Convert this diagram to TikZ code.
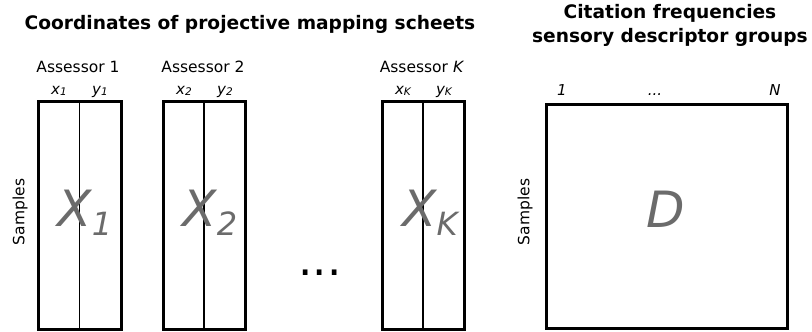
\documentclass[tikz,border=0pt]{standalone}
\usepackage{fontspec}
\setmainfont{DejaVu Sans}
\definecolor{biggray}{rgb}{0.42,0.42,0.42}
\begin{document}
\begin{tikzpicture}[x=1pt,y=-1pt,
  outer/.style={draw=black,line width=3pt},
  inner/.style={draw=black,line width=1.2pt},
  lab/.style={font=\fontsize{15.5}{18}\selectfont,inner sep=0pt,anchor=base},
  col/.style={font=\fontsize{15}{18}\selectfont\itshape,inner sep=0pt,anchor=base},
  ttl/.style={font=\fontsize{18.6}{22}\selectfont\bfseries,inner sep=0pt,anchor=base},
  big/.style={font=\fontsize{50}{50}\selectfont\itshape,text=biggray,inner sep=0pt,anchor=base},
  samp/.style={font=\fontsize{15.5}{18}\selectfont,rotate=90,inner sep=0pt}]
\useasboundingbox (0,0) rectangle (812,332);
% titles
\node[ttl] (t1) at (250,30) {Coordinates of projective mapping scheets};
\node[ttl] (t2a) at (670,19) {Citation frequencies};
\node[ttl] (t2b) at (670,42) {sensory descriptor groups};
% boxes
\foreach \n/\l/\r in {a/38/121,b/163/245,k/382/464}{
  \draw[outer] (\l,101) rectangle (\r,329);
  \coordinate (\n top) at ({(\l+\r)/2},101);
  \coordinate (\n bot) at ({(\l+\r)/2},329);
  \draw[inner] (\n top) -- (\n bot);
}
\draw[outer] (546,104) rectangle (787,328);
% assessor labels
\node[lab] (as1) at (78,72) {Assessor 1};
\node[lab] (as2) at (203,72) {Assessor 2};
\node[lab] (ask) at (422,72) {Assessor \textit{K}};
% column labels
\node[col] (x1) at (59,94) {x\raisebox{-1.5pt}{\fontsize{10.5}{10}\selectfont 1}};
\node[col] (y1) at (100,94) {y\raisebox{-1.5pt}{\fontsize{10.5}{10}\selectfont 1}};
\node[col] (x2) at (184,94) {x\raisebox{-1.5pt}{\fontsize{10.5}{10}\selectfont 2}};
\node[col] (y2) at (225,94) {y\raisebox{-1.5pt}{\fontsize{10.5}{10}\selectfont 2}};
\node[col] (xk) at (403,94) {x\raisebox{-1.5pt}{\fontsize{10.5}{10}\selectfont K}};
\node[col] (yk) at (444,94) {y\raisebox{-1.5pt}{\fontsize{10.5}{10}\selectfont K}};
\node[col] (d1) at (562,95) {1};
\node[col] (dd) at (655,95) {...};
\node[col] (dn) at (775,95) {N};
% big letters
\node[big] (X1) at (85,226) {X\raisebox{-9pt}{\fontsize{32}{32}\selectfont 1}};
\node[big] (X2) at (210,226) {X\raisebox{-9pt}{\fontsize{32}{32}\selectfont 2}};
\node[big] (XK) at (430,226) {X\raisebox{-9pt}{\fontsize{32}{32}\selectfont K}};
\node[big] (D) at (666,227) {D};
% samples
\node[samp] (s1) at (20,212) {Samples};
\node[samp] (s2) at (525,212) {Samples};
% dots
\node[font=\fontsize{45}{45}\selectfont,inner sep=0pt] (dots) at (320,273) {...};
\end{tikzpicture}
\end{document}
